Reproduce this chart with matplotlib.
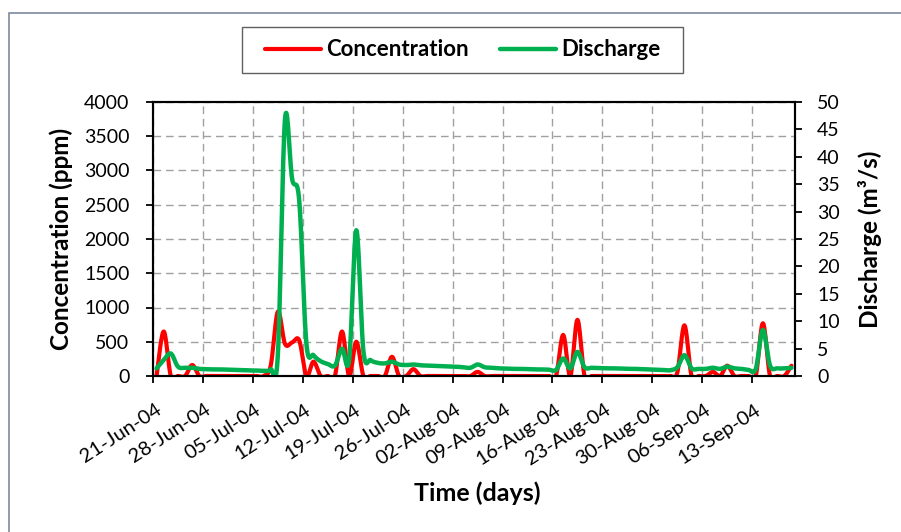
import numpy as np
import pandas as pd
import matplotlib
matplotlib.use("Agg")
import matplotlib.pyplot as plt
import matplotlib.dates as mdates
from matplotlib.patches import Rectangle
from matplotlib.transforms import ScaledTranslation

plt.rcParams["font.family"] = ["Lato", "DejaVu Sans"]

# daily record, 21-Jun-04 .. 18-Sep-04 (each value sits mid-day)
days = pd.date_range("2004-06-21 12:00", periods=90, freq="D")

concentration = [
    0, 650, 0, 0, 0, 160, 0, 0, 0, 0,
    0, 0, 0, 0, 0, 0, 150, 940, 470, 490,
    520, 0, 210, 0, 0, 0, 650, 0, 500, 0,
    0, 0, 0, 280, 0, 0, 100, 0, 0, 0,
    0, 0, 0, 0, 0, 60, 0, 0, 0, 0,
    0, 0, 0, 0, 0, 0, 0, 600, 0, 820,
    0, 0, 0, 0, 0, 0, 0, 0, 0, 0,
    0, 0, 0, 50, 740, 0, 0, 0, 60, 0,
    150, 0, 0, 0, 0, 770, 0, 0, 0, 150,
]

discharge = [
    1.4, 2.9, 4.1, 1.7, 1.5, 1.5, 1.3, 1.25, 1.2, 1.2,
    1.15, 1.1, 1.05, 1.0, 1.0, 0.95, 1.2, 3.8, 46.8, 36.0,
    32.0, 6.0, 3.8, 2.7, 2.2, 1.9, 5.0, 3.0, 26.6, 4.5,
    2.9, 2.4, 2.3, 2.6, 2.1, 2.0, 2.1, 1.95, 1.9, 1.85,
    1.8, 1.75, 1.7, 1.6, 1.5, 2.1, 1.6, 1.5, 1.4, 1.35,
    1.3, 1.3, 1.25, 1.2, 1.2, 1.15, 1.1, 3.2, 1.4, 4.4,
    1.6, 1.5, 1.45, 1.4, 1.4, 1.35, 1.3, 1.3, 1.25, 1.2,
    1.15, 1.1, 1.05, 1.6, 3.8, 1.4, 1.3, 1.3, 1.5, 1.3,
    1.7, 1.4, 1.3, 1.1, 1.3, 8.4, 1.9, 1.4, 1.4, 1.5,
]

tick_dates = pd.date_range("2004-06-21", "2004-09-13", freq="7D")
conc_ticks = np.arange(0, 4001, 500)
flow_ticks = np.arange(0, 51, 5)


def smooth_curve(x, y, steps=16):
    # Catmull-Rom style bezier through every point (spreadsheet "smoothed line")
    x = np.asarray(x, dtype=float)
    y = np.asarray(y, dtype=float)
    px = np.concatenate([[x[0]], x, [x[-1]]])
    py = np.concatenate([[y[0]], y, [y[-1]]])
    t = np.linspace(0, 1, steps + 1)[1:]
    xs, ys = [x[0]], [y[0]]
    for k in range(len(x) - 1):
        p0x, p1x, p2x, p3x = px[k:k + 4]
        p0y, p1y, p2y, p3y = py[k:k + 4]
        c1x, c1y = p1x + (p2x - p0x) / 6, p1y + (p2y - p0y) / 6
        c2x, c2y = p2x - (p3x - p1x) / 6, p2y - (p3y - p1y) / 6
        a, b, c, d = (1 - t) ** 3, 3 * (1 - t) ** 2 * t, 3 * (1 - t) * t ** 2, t ** 3
        xs.extend(a * p1x + b * c1x + c * c2x + d * p2x)
        ys.extend(a * p1y + b * c1y + c * c2y + d * p2y)
    return np.array(xs), np.array(ys)


fig = plt.figure(figsize=(9.01, 5.32), dpi=100)
ax = fig.add_axes([153 / 901, 1 - 376 / 532, 642 / 901, 274 / 532])
ax2 = ax.twinx()

xnum = mdates.date2num(days)
cx, cy = smooth_curve(xnum, concentration)
qx, qy = smooth_curve(xnum, discharge)
l1, = ax.plot(cx, cy, color="#ff0000", lw=3.0, solid_capstyle="round", label="Concentration")
l2, = ax2.plot(qx, qy, color="#00b050", lw=3.2, solid_capstyle="round", label="Discharge")

ax.set_xlim(mdates.date2num(pd.Timestamp("2004-06-21")), mdates.date2num(pd.Timestamp("2004-09-19")))
ax.set_ylim(0, 4000)
ax2.set_ylim(0, 50)
ax.set_yticks(conc_ticks)
ax2.set_yticks(flow_ticks)
ax.set_xticks(mdates.date2num(tick_dates))
ax.xaxis.set_major_formatter(mdates.DateFormatter("%d-%b-%y"))

ax.set_axisbelow(True)
ax.grid(True, color="#a0a0a0", lw=1.0, linestyle=(0, (5.5, 3.5)))

for a in (ax, ax2):
    for s in a.spines.values():
        s.set_linewidth(1.5)
        s.set_color("black")

ax.tick_params(axis="y", direction="out", length=5, width=1.3, pad=12, labelsize=14)
ax2.tick_params(axis="y", direction="out", length=5, width=1.3, pad=11, labelsize=14)
ax.tick_params(axis="x", direction="out", length=5, width=1.3, pad=13, labelsize=14.5)

shift = ScaledTranslation(2 / 100, 0, fig.dpi_scale_trans)
for lab in ax.get_xticklabels():
    lab.set_rotation(33)
    lab.set_rotation_mode("anchor")
    lab.set_ha("right")
    lab.set_va("top")
    lab.set_transform(lab.get_transform() + shift)

ax.set_ylabel("Concentration (ppm)", fontsize=17.5, fontweight="bold")
ax.yaxis.set_label_coords((61.5 - 153) / 642, 0.5)
ax.yaxis.label.set_va("center")
ax2.set_ylabel("Discharge (m³/s)", fontsize=17.5, fontweight="bold")
ax2.yaxis.set_label_coords((870 - 153) / 642, 0.5)
ax2.yaxis.label.set_va("center")
ax.set_xlabel("Time (days)", fontsize=18, fontweight="bold")
ax.xaxis.set_label_coords((477 - 153) / 642, (376 - 493) / 274)
ax.xaxis.label.set_va("center")

fig.legend(handles=[l1, l2], loc="center", bbox_to_anchor=(463 / 901, 1 - 50 / 532),
           bbox_transform=fig.transFigure, ncol=2, frameon=False,
           handlelength=2.5, handletextpad=0.25, columnspacing=1.4,
           prop={"family": "Lato", "weight": "bold", "size": 16})
fig.add_artist(Rectangle((242 / 901, 1 - 73 / 532), 441 / 901, 46 / 532,
                         transform=fig.transFigure, fill=False, edgecolor="#606060", lw=1.0))

# outer chart frame, open to the right and bottom
fig.add_artist(Rectangle((8.5 / 901, -0.5), 2.0, 0.5 + 1 - 12.5 / 532,
                         transform=fig.transFigure, fill=False, edgecolor="#7d8ba0", lw=1.2))

fig.savefig("out.png", dpi=100)
